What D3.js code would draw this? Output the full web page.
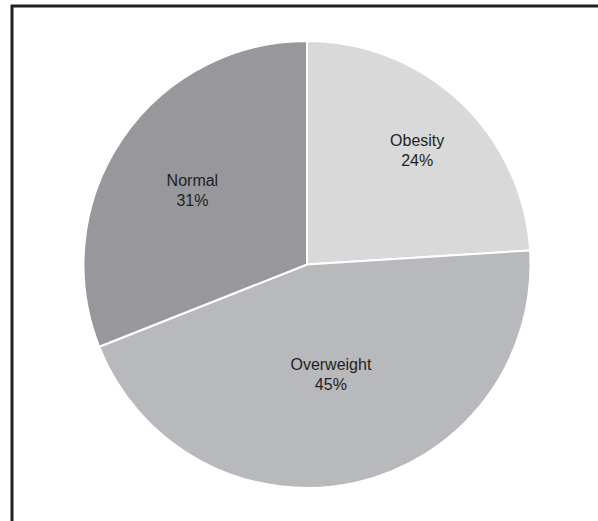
<!DOCTYPE html>
<html>
<head>
<meta charset="utf-8">
<script src="https://cdn.jsdelivr.net/npm/d3@7"></script>
<style>
  html, body { margin: 0; padding: 0; background: #fff; }
  svg { display: block; }
</style>
</head>
<body>
<svg id="pie-svg"></svg>
<script>
// chart data
const categories = ["Obesity", "Overweight", "Normal"];
const shares = [24, 45, 31];
const slice_colors = ["#d9d9da", "#b8b9bc", "#98989c"];

function draw_pie() {
    let width = 598;
    let height = 521;
    let cx = 307;
    let cy = 264.5;
    let radius = 223.5;

    // how far out each label sits, as a share of the radius
    let label_pos = {"Obesity": 0.72, "Overweight": 0.49, "Normal": 0.62};

    const svg = d3.select("#pie-svg")
        .attr("width", width)
        .attr("height", height);

    const rows = categories.map((c, i) => ({name: c, value: shares[i]}));

    const color = d3.scaleOrdinal().domain(categories).range(slice_colors);

    const pie = d3.pie()
        .sort(null)
        .value(d => d.value);

    const arc = d3.arc()
        .innerRadius(0)
        .outerRadius(radius);

    const g = svg.append("g")
        .attr("transform", `translate(${cx},${cy})`);

    const arcs = pie(rows);

    g.selectAll("path")
        .data(arcs)
        .join("path")
        .attr("d", arc)
        .attr("fill", d => color(d.data.name))
        .attr("stroke", "#fff")
        .attr("stroke-width", 2)
        .attr("stroke-linejoin", "round");

    const label = g.selectAll("text")
        .data(arcs)
        .join("text")
        .attr("transform", d => {
            let r = radius * label_pos[d.data.name];
            let c = d3.arc().innerRadius(r).outerRadius(r).centroid(d);
            return `translate(${c[0]},${c[1]})`;
        })
        .attr("text-anchor", "middle")
        .attr("font-family", "'Liberation Sans', Arial, sans-serif")
        .attr("font-size", 16)
        .attr("fill", "#231f20");

    label.append("tspan")
        .attr("x", 0)
        .attr("y", -1)
        .text(d => d.data.name);

    label.append("tspan")
        .attr("x", 0)
        .attr("y", 19)
        .text(d => d.data.value + "%");

    // frame: top and left edges only
    svg.append("line")
        .attr("x1", 11).attr("y1", 6)
        .attr("x2", width).attr("y2", 6)
        .attr("stroke", "#231f20")
        .attr("stroke-width", 3);

    svg.append("line")
        .attr("x1", 12).attr("y1", 5)
        .attr("x2", 12).attr("y2", height)
        .attr("stroke", "#231f20")
        .attr("stroke-width", 3);
}

draw_pie();
</script>
</body>
</html>
